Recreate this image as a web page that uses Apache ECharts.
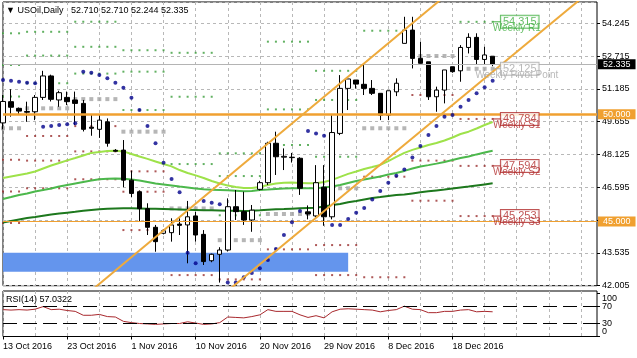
<!DOCTYPE html>
<html><head><meta charset="utf-8">
<script src="https://cdn.jsdelivr.net/npm/echarts@6/dist/echarts.min.js"></script>
<style>html,body{margin:0;padding:0;background:#fff}#c{width:637px;height:358px}</style>
</head><body><div id="c"></div>
<script>
const dates = ['13 Oct 2016','14 Oct 2016','16 Oct 2016','17 Oct 2016','18 Oct 2016','19 Oct 2016','20 Oct 2016','21 Oct 2016','23 Oct 2016','24 Oct 2016','25 Oct 2016','26 Oct 2016','27 Oct 2016','28 Oct 2016','30 Oct 2016','31 Oct 2016',
'1 Nov 2016','2 Nov 2016','3 Nov 2016','4 Nov 2016','6 Nov 2016','7 Nov 2016','8 Nov 2016','9 Nov 2016','10 Nov 2016','11 Nov 2016','13 Nov 2016','14 Nov 2016','15 Nov 2016','16 Nov 2016','17 Nov 2016','18 Nov 2016','20 Nov 2016','21 Nov 2016','22 Nov 2016','23 Nov 2016','24 Nov 2016','25 Nov 2016','27 Nov 2016','28 Nov 2016','29 Nov 2016','30 Nov 2016',
'1 Dec 2016','2 Dec 2016','4 Dec 2016','5 Dec 2016','6 Dec 2016','7 Dec 2016','8 Dec 2016','9 Dec 2016','11 Dec 2016','12 Dec 2016','13 Dec 2016','14 Dec 2016','15 Dec 2016','16 Dec 2016','18 Dec 2016','19 Dec 2016','20 Dec 2016','21 Dec 2016','22 Dec 2016','23 Dec 2016'];

const open  = [49.6,50.59,50.28,50.13,50.12,50.79,51.79,50.67,50.79,50.67, 50.51,49.4,49.3,49.65,48.32,48.33,46.93,46.39,45.6,44.73, 44.45,44.48,44.88,44.84,45.26,44.4,43.17,43.47,43.67,45.69, 45.46,45.07,46.5,46.81,48.65,48.0,48.0,47.95,45.45,45.26, 46.6,45.22,49.11,51.21,51.6,51.4,51.21,50.98,49.96,51.05, 53.31,53.93,52.61,52.45,50.82,51.13,52.22,52.03,53.12,53.59, 52.56,52.71];
const close = [50.6,50.33,50.15,50.10,50.79,51.79,50.70,51.01,50.59,50.51, 49.3,49.35,49.73,48.65,48.28,46.93,46.31,45.6,44.73,44.06, 44.57,44.84,44.82,45.22,44.37,43.13,43.47,43.67,45.69,45.46, 45.07,45.53,46.81,48.65,48.02,48.04,47.98,46.55,45.35,46.81, 45.22,49.15,51.21,51.65,51.41,51.21,50.98,49.96,51.10,51.45, 53.93,52.61,52.38,50.82,51.13,52.07,51.99,53.12,53.59,52.56, 52.77,52.335];
const low   = [49.3,49.89,50.0,49.65,49.73,50.67,50.6,50.35,50.43,49.5, 49.2,49.0,48.9,48.49,48.25,46.6,46.13,44.99,44.37,43.59, 44.4,44.06,44.37,43.05,44.06,42.97,43.1,42.15,43.6,45.07, 44.84,44.52,46.45,46.7,47.17,47.4,47.75,46.24,45.1,45.2, 44.8,45.1,49.03,50.2,51.2,50.9,50.9,49.73,49.73,50.85, 53.31,52.14,52.38,50.67,50.12,50.51,51.94,51.52,52.84,52.30, 52.30,52.244];
const high  = [50.9,51.17,50.32,50.59,50.9,52.03,51.85,51.1,51.06,51.06, 50.67,50.0,50.0,49.81,48.38,48.8,47.37,46.45,45.85,44.84, 44.65,45.15,45.15,45.96,45.46,44.6,43.5,43.8,46.08,46.47, 46.39,45.77,46.9,48.72,49.19,48.41,48.2,48.0,45.75,47.63, 47.63,49.96,51.83,51.65,51.6,52.38,51.6,50.98,51.10,51.68, 54.55,54.55,53.39,52.45,51.29,52.07,52.22,53.23,53.78,53.78, 53.15,52.71];

const sar = [51.60,51.57,51.52,51.47,51.45,49.42,49.46,49.50,49.54,49.58, 51.99,51.94,51.83,51.68,51.47,51.24,50.77,50.20,49.45,48.65, 47.74,46.98,46.36,43.54,43.05,45.96,45.87,45.80,42.16,42.16, 42.40,42.60,42.82,43.20,43.72,44.37,44.96,45.49,49.22,49.11, 49.00,44.84,44.84,45.12,45.41,45.63,46.03,46.42,46.81,47.14, 47.43,47.99,48.52,49.03,49.45,49.89,49.97,50.35,50.67,50.98, 51.26,51.57];

const maFast = [47.03,47.10,47.17,47.24,47.33,47.47,47.61,47.73,47.85,47.96, 48.08,48.20,48.24,48.29,48.30,48.27,48.15,48.03,47.92,47.80, 47.68,47.57,47.40,47.26,47.15,47.03,46.89,46.77,46.68,46.61, 46.56,46.56,46.61,46.70,46.77,46.81,46.82,46.80,46.78,46.78, 46.84,46.94,47.08,47.22,47.33,47.45,47.54,47.64,47.82,48.01, 48.20,48.34,48.45,48.57,48.66,48.78,48.92,49.08,49.19,49.34, 49.50,49.64];
const maMid = [46.05,46.14,46.24,46.31,46.40,46.47,46.54,46.63,46.70,46.77, 46.84,46.91,46.97,46.99,47.01,46.99,46.96,46.91,46.84,46.77, 46.73,46.68,46.63,46.59,46.54,46.50,46.48,46.47,46.46,46.44, 46.41,46.42,46.47,46.49,46.52,46.54,46.55,46.55,46.55,46.55, 46.59,46.63,46.70,46.80,46.89,46.96,47.03,47.10,47.19,47.26, 47.36,47.47,47.57,47.63,47.70,47.78,47.87,47.96,48.03,48.13, 48.22,48.30];
const maSlow = [44.95,45.02,45.09,45.16,45.21,45.27,45.33,45.37,45.41,45.45, 45.50,45.54,45.57,45.59,45.61,45.62,45.62,45.61,45.60,45.59, 45.58,45.57,45.56,45.55,45.54,45.53,45.52,45.51,45.50,45.50, 45.49,45.50,45.52,45.55,45.57,45.58,45.60,45.62,45.63,45.64, 45.70,45.77,45.82,45.90,45.96,46.03,46.10,46.14,46.19,46.24, 46.26,46.31,46.36,46.41,46.45,46.49,46.54,46.59,46.63,46.68, 46.73,46.78];

const rsi = [62,61,62,61,63,69,62,63,60,58, 49,49,51,46,45,35,32,30,29,28, 29,30,30,34,31,28,29,32,45,44, 43,46,50,62,58,58,58,50,44,48, 43,57,63,64,63,62,61,57,60,62, 70,63,62,55,55,58,58,61,62,57, 58,57.0322];
const rsiLevels = [70, 30];
const rsiInnerTicks = [30, 70];
const rsiEdgeTicks = [0, 100];

// weekly pivot segments (bar index ranges) and levels
const weekStart = [0,3,9,15,21,27,33,39,45,51,57];
const weekEnd   = [2,8,14,20,26,32,38,44,50,56,61];
const pivR3 = [53.78,53.85,54.32,52.99,52.87,48.18,53.39,52.03,null,null,null];
const pivR2 = [52.30,52.74,53.15,51.99,50.82,47.12,50.23,50.67,null,null,null];
const pivR1 = [50.83,51.45,51.90,50.20,47.68,45.29,48.57,48.02,53.90,null,54.315];
const pivP  = [49.35,50.28,50.71,49.19,45.61,44.13,45.35,46.55,49.35,52.72,52.125];
const pivS1 = [47.88,48.99,49.45,47.34,42.50,42.30,43.70,43.90,47.09,50.90,49.784];
const pivS2 = [46.40,47.84,48.27,46.39,null,null,null,42.50,42.40,47.84,47.594];
const pivS3 = [44.93,46.55,46.97,44.60,null,null,null,null,null,45.97,45.253];

const weeklyLabelNames  = ['Weekly R1','Weekly Pivot Point','Weekly S1','Weekly S2','Weekly S3'];
const weeklyLabelValues = [54.315, 52.125, 49.784, 47.594, 45.253];

const yMin = 42.005, yMax = 55.24, yStep = 1.53;
const levelMajor = 50.000, levelMinor = 45.000, lastPrice = 52.335;
const upperChannel = [[10, 41.465], [56, 55.81]];
const lowerChannel = [[28, 41.768], [74, 56.01]];
const supportZone = {from: 0, to: 43, top: 43.545, bottom: 42.66};

const FONT = "'Liberation Sans', Arial, sans-serif";
const SLOTS = 75;
const cats = dates.concat(new Array(SLOTS - dates.length).fill(''));
const ohlc = open.map((o, i) => [o, close[i], low[i], high[i]]);
const GRID_CLR = '#b8b8b8';
const R_CLR = '#3b9e3b', P_CLR = '#a4a4a4', S_CLR = '#9a2e2e';

function weekly(levels) {
  const out = [];
  levels.forEach((v, w) => {
    if (v == null) return;
    for (let b = weekStart[w]; b <= weekEnd[w]; b++) out.push([b, v]);
  });
  return out;
}
function dots(levels, color, size) {
  return {type: 'scatter', xAxisIndex: 0, yAxisIndex: 0, data: weekly(levels), symbol: 'rect',
    symbolSize: size, itemStyle: {color}, z: 2, silent: true};
}

const series = [
  {type: 'line', data: [], markArea: {silent: true, itemStyle: {color: '#6495ed', opacity: 1},
    data: [[{coord: [supportZone.from, supportZone.top]}, {coord: [supportZone.to, supportZone.bottom]}]]}, z: 1},
  dots(pivR3, R_CLR, 2), dots(pivR2, R_CLR, 2), dots(pivR1, R_CLR, 2),
  dots(pivP, P_CLR, 4),
  dots(pivS1, S_CLR, 2), dots(pivS2, S_CLR, 2), dots(pivS3, S_CLR, 2),
  {type: 'line', data: maFast, showSymbol: false, symbol: 'none', lineStyle: {color: '#9ee24a', width: 2}, z: 3, silent: true},
  {type: 'line', data: maMid, showSymbol: false, symbol: 'none', lineStyle: {color: '#4cb84c', width: 2}, z: 3, silent: true},
  {type: 'line', data: maSlow, showSymbol: false, symbol: 'none', lineStyle: {color: '#1d781d', width: 2}, z: 3, silent: true},
  {type: 'candlestick', data: ohlc, barWidth: 5, z: 4, silent: true,
    itemStyle: {color: '#fff', color0: '#000', borderColor: '#000', borderColor0: '#000', borderWidth: 1}},
  {type: 'scatter', data: sar.map((v, i) => [i, v]), symbol: 'circle', symbolSize: 4,
    itemStyle: {color: '#00008b'}, z: 5, silent: true},
  {type: 'line', data: upperChannel, symbol: 'none', lineStyle: {color: '#eeaa3c', width: 2}, z: 6, silent: true},
  {type: 'line', data: lowerChannel, symbol: 'none', lineStyle: {color: '#eeaa3c', width: 2}, z: 6, silent: true},
  {type: 'line', data: [], z: 6, markLine: {silent: true, symbol: 'none', animation: false, data: [
      {yAxis: lastPrice, lineStyle: {color: '#b4b4b4', width: 1, type: 'solid'},
        label: {show: true, position: 'end', distance: 1, formatter: lastPrice.toFixed(3), color: '#fff',
          backgroundColor: '#000', padding: [1, 5, 0, 5], fontSize: 9, fontFamily: FONT}},
      {yAxis: levelMajor, lineStyle: {color: '#f0a030', width: 2.5, type: 'solid'},
        label: {show: true, position: 'end', distance: 1, formatter: levelMajor.toFixed(3), color: '#fff',
          backgroundColor: '#f0a030', padding: [1, 5, 0, 5], fontSize: 9, fontFamily: FONT}},
      {yAxis: levelMinor, lineStyle: {color: '#f0a030', width: 1, type: 'solid'},
        label: {show: true, position: 'end', distance: 1, formatter: levelMinor.toFixed(3), color: '#fff',
          backgroundColor: '#f0a030', padding: [1, 5, 0, 5], fontSize: 9, fontFamily: FONT}}
  ]}}
];

const labelSlot = 64;
weeklyLabelNames.forEach((name, k) => {
  const v = weeklyLabelValues[k];
  const clr = k === 0 ? '#3fae3f' : (k === 1 ? '#a8a8a8' : '#b02a2a');
  series.push({type: 'line', data: [[61, v], [63, v]], symbol: 'none', lineStyle: {color: clr, width: 1}, z: 7, silent: true});
  series.push({type: 'scatter', data: [[labelSlot, v]], symbolSize: 1, itemStyle: {color: 'rgba(0,0,0,0)'}, z: 8, silent: true,
    label: {show: true, position: 'inside', offset: [3, 0], formatter: v.toFixed(3), fontSize: 11, fontFamily: FONT,
      color: clr, borderColor: clr, borderWidth: 1, padding: [1, 2, 0, 2], backgroundColor: '#fff'}});
  series.push({type: 'scatter', data: [[labelSlot, v]], symbolSize: 1, itemStyle: {color: 'rgba(0,0,0,0)'}, z: 9, silent: true,
    label: {show: true, position: 'inside', offset: [0, 6], formatter: name, fontSize: 10, fontFamily: FONT, color: clr}});
});

series.push({type: 'line', xAxisIndex: 1, yAxisIndex: 1, data: rsi, symbol: 'none', showSymbol: false,
  lineStyle: {color: '#a8282d', width: 1}, z: 3, silent: true,
  markLine: {silent: true, symbol: 'none', label: {show: false},
    lineStyle: {color: '#000', width: 1, type: [14, 6]}, data: rsiLevels.map(v => ({yAxis: v}))}});

const xLabelInterval = i => i % 8 === 0 && i < dates.length - 4;
const rsiAxisBase = {type: 'value', gridIndex: 1, position: 'right', min: 0, max: 105, axisLine: {show: false}, splitLine: {show: false}};
const option = {
  animation: false,
  backgroundColor: '#fff',
  textStyle: {fontFamily: FONT, fontSize: 9, color: '#000'},
  title: [
    {text: '\u25BC USOil,Daily   ' + [open[61], high[61], low[61], close[61]].map(v => v.toFixed(3)).join(' '),
      left: 6, top: 6, padding: 0, textStyle: {fontSize: 9, fontWeight: 'normal', color: '#000', fontFamily: FONT}},
    {text: 'RSI(14) ' + rsi[rsi.length - 1].toFixed(4), left: 6, top: 295, padding: 0,
      textStyle: {fontSize: 9, fontWeight: 'normal', color: '#000', fontFamily: FONT}}
  ],
  grid: [
    {left: 3, right: 40, top: 2, height: 283.7, show: true, borderColor: '#000', borderWidth: 1, backgroundColor: '#fff'},
    {left: 3, right: 40, top: 291, height: 45.5, show: true, borderColor: '#000', borderWidth: 1, backgroundColor: '#fff'}
  ],
  xAxis: [
    {type: 'category', gridIndex: 0, data: cats, boundaryGap: false, axisLine: {show: false}, axisTick: {show: false},
      axisLabel: {show: false}, splitLine: {show: true, interval: i => i % 4 === 0, lineStyle: {color: GRID_CLR, type: [3, 3]}}},
    {type: 'category', gridIndex: 1, data: cats, boundaryGap: false, axisLine: {show: false},
      axisTick: {show: true, interval: xLabelInterval, length: 3, lineStyle: {color: '#000'}},
      axisLabel: {show: true, interval: xLabelInterval, align: 'left', margin: 6, fontSize: 9, color: '#000', fontFamily: FONT},
      splitLine: {show: true, interval: i => i % 4 === 0, lineStyle: {color: GRID_CLR, type: [3, 3]}}}
  ],
  yAxis: [
    {type: 'value', gridIndex: 0, position: 'right', min: yMin, max: yMax, interval: yStep,
      axisLine: {show: false}, axisTick: {show: true, length: 3, lineStyle: {color: '#000'}},
      axisLabel: {formatter: v => v.toFixed(3), showMaxLabel: false, margin: 5, fontSize: 9, color: '#000', fontFamily: FONT},
      splitLine: {show: true, lineStyle: {color: GRID_CLR, type: [3, 3]}}},
    Object.assign({}, rsiAxisBase, {
      axisTick: {show: true, length: 3, customValues: rsiInnerTicks, lineStyle: {color: '#000'}},
      axisLabel: {customValues: rsiInnerTicks, margin: 5, fontSize: 9, color: '#000', fontFamily: FONT}}),
    Object.assign({}, rsiAxisBase, {
      axisTick: {show: true, length: 3, customValues: rsiEdgeTicks, lineStyle: {color: '#000'}},
      axisLabel: {customValues: rsiEdgeTicks, showMinLabel: true, showMaxLabel: true, margin: 5, fontSize: 9,
        color: '#000', fontFamily: FONT, lineHeight: 10,
        formatter: v => v === 100 ? '\n100' : '0\n'}})
  ],
  series
};
const chart = echarts.init(document.getElementById('c'));
chart.setOption(option);
</script>
</body></html>
